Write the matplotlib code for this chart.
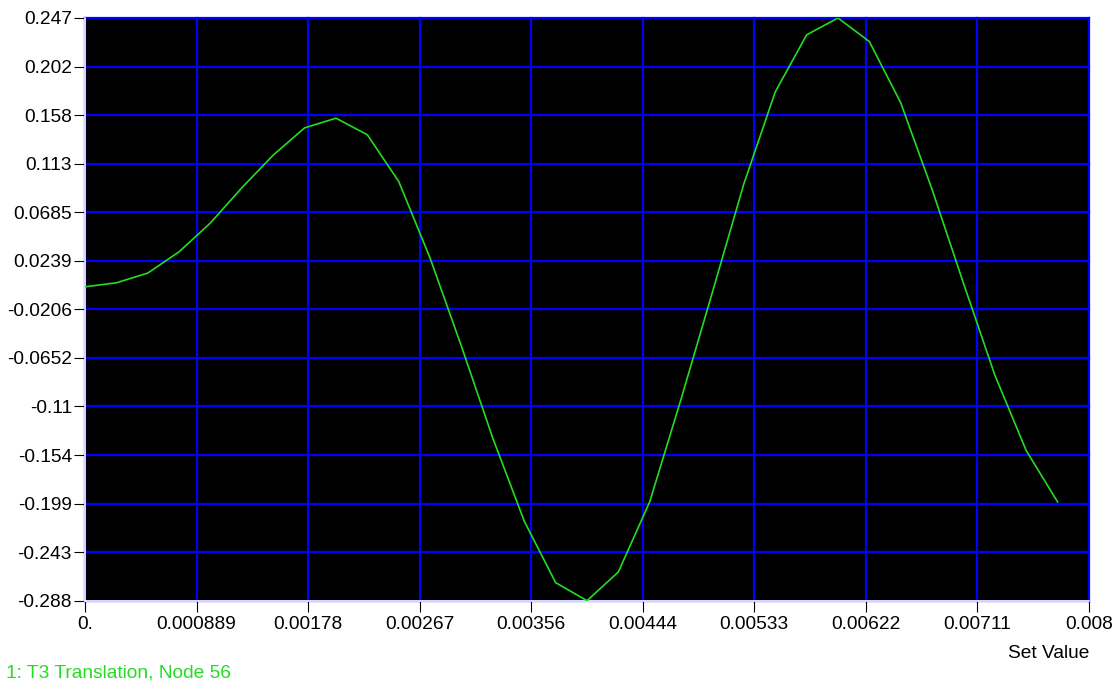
import numpy as np
import matplotlib
matplotlib.use("Agg")
import matplotlib.pyplot as plt
from matplotlib.patches import Rectangle

# Sampled response of node 56 (T3 translation) against set value
set_value = [0.0, 0.00025, 0.0005, 0.00075, 0.001, 0.00125, 0.0015, 0.00175,
             0.002, 0.00225, 0.0025, 0.00275, 0.003, 0.00325, 0.0035, 0.00375,
             0.004, 0.00425, 0.0045, 0.00475, 0.005, 0.00525, 0.0055, 0.00575,
             0.006, 0.00625, 0.0065, 0.00675, 0.007, 0.00725, 0.0075, 0.00775]
t3_translation = [0.000, 0.0037, 0.0126, 0.0322, 0.0587, 0.0910, 0.1210, 0.1460,
                  0.1549, 0.1396, 0.0967, 0.0263, -0.0548, -0.1392, -0.2152, -0.2717,
                  -0.2883, -0.2619, -0.1974, -0.1030, -0.0047, 0.0946, 0.1790, 0.2314,
                  0.2469, 0.2252, 0.1690, 0.0893, 0.0032, -0.0812, -0.1505, -0.1976]

x_tick_labels = ['0.', '0.000889', '0.00178', '0.00267', '0.00356', '0.00444',
                 '0.00533', '0.00622', '0.00711', '0.008']
y_tick_labels = ['-0.288', '-0.243', '-0.199', '-0.154', '-0.11', '-0.0652',
                 '-0.0206', '0.0239', '0.0685', '0.113', '0.158', '0.202', '0.247']
x_axis_max = 0.008

legend_text = '1: T3 Translation, Node 56'
x_label = 'Set Value'

W, H = 1120, 682
plt.rcParams['font.family'] = ['Liberation Sans', 'DejaVu Sans']
fig = plt.figure(figsize=(W / 100, H / 100), dpi=100, facecolor='white')
ax = fig.add_axes([85 / W, 1 - 600.7 / H, (1089 - 85) / W, (600.7 - 18) / H])
ax.set_facecolor('black')

curve_color = '#22DD22'
ax.plot(set_value, t3_translation, color=curve_color, lw=1.2, zorder=3)

y_lo, y_hi = min(t3_translation), max(t3_translation)
ax.set_xlim(0, x_axis_max)
ax.set_ylim(y_lo, y_hi)
ax.set_xticks(np.linspace(0, x_axis_max, len(x_tick_labels)))
ax.set_xticklabels(x_tick_labels)
ax.set_yticks(np.linspace(y_lo, y_hi, len(y_tick_labels)))
ax.set_yticklabels(y_tick_labels)

ax.grid(True, color='#0000FF', lw=1.6, zorder=1)
ax.set_axisbelow(True)
for gl in ax.get_xgridlines() + ax.get_ygridlines():
    gl.set_clip_on(False)

for side in ('top', 'right'):
    ax.spines[side].set_visible(False)
for side in ('left', 'bottom'):
    ax.spines[side].set_color('white')
    ax.spines[side].set_linewidth(1.2)

ax.tick_params(axis='both', direction='out', length=8, width=0.8,
               color='black', labelcolor='black', labelsize=13.8)
ax.tick_params(axis='x', pad=3)
ax.tick_params(axis='y', pad=1.5)

fig.text(1089 / W, 1 - 658.3 / H, x_label, ha='right', va='baseline',
         fontsize=13.8, color='black')
fig.text(5.5 / W, 1 - 677.0 / H, legend_text, ha='left', va='baseline',
         fontsize=13.8, color=curve_color)

# right edge of the window frame cuts off the last tick label
fig.patches.append(Rectangle((1112 / W, 0), 8 / W, 1, transform=fig.transFigure,
                             facecolor='white', edgecolor='none', zorder=10))

fig.savefig('out.png', dpi=100, facecolor='white')
